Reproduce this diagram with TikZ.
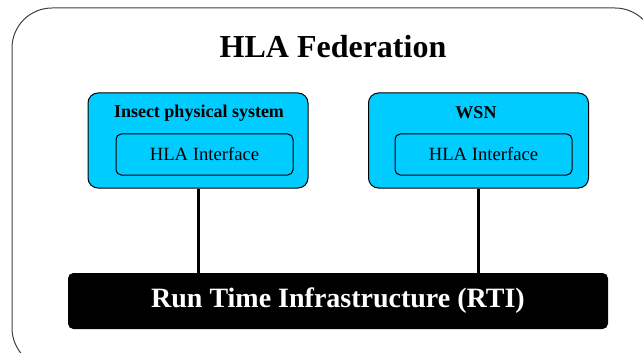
\documentclass[tikz,border=0pt]{standalone}
\usepackage{fontspec}
\setmainfont{Liberation Serif}

\definecolor{fedcyan}{RGB}{0,204,255}
\definecolor{framegray}{RGB}{64,64,64}

\tikzset{every picture/.style={line width=0.75pt}}
\tikzset{
  fedbox/.style={draw=black, fill=fedcyan, rounded corners=7.5pt, minimum width=165pt, minimum height=71.25pt, inner sep=0pt},
  ifbox/.style={draw=black, fill=fedcyan, rounded corners=4pt, minimum width=132.75pt, minimum height=30.75pt, inner sep=0pt, font=\fontsize{14}{16}\selectfont},
  fedlabel/.style={inner sep=0.75pt, font=\fontsize{13.5}{15}\selectfont\bfseries},
  rtibox/.style={fill=black, rounded corners=4pt, minimum width=405pt, minimum height=42pt, inner sep=0pt, text=white, font=\fontsize{21}{24}\selectfont\bfseries},
  link/.style={line width=2.25pt}
}

\begin{document}
\begin{tikzpicture}[x=0.75pt,y=0.75pt,yscale=-1,xscale=1]
\useasboundingbox (0,0) rectangle (643,353);

%Rounded Rect (federation frame)
\draw [color=framegray, line width=0.75pt, rounded corners=30pt] (12,8) rectangle (655,368);
% Text Node
\node (title) at (333,47) [inner sep=0.75pt, font=\fontsize{24}{28}\selectfont\bfseries] {HLA Federation};

%Rounded Rect (federates)
\node (ips) at (198,140.5) [fedbox] {};
\node (wsn) at (478.5,140.5) [fedbox] {};
% Text Node
\node (ipsLabel) at (199,113) [fedlabel] {Insect physical system};
\node (wsnLabel) at (476,113) [fedlabel] {WSN};
%Rounded Rect (interfaces)
\node (ipsIf) at (204.5,154.5) [ifbox] {HLA Interface};
\node (wsnIf) at (483.5,154.5) [ifbox] {HLA Interface};

%Rounded Rect (RTI)
\node (rti) at (338,301) [rtibox] {Run Time Infrastructure (RTI)};

%Straight Lines
\draw [link] (ips.south) -- (ips.south |- rti.north);
\draw [link] (wsn.south) -- (wsn.south |- rti.north);

\end{tikzpicture}
\end{document}
